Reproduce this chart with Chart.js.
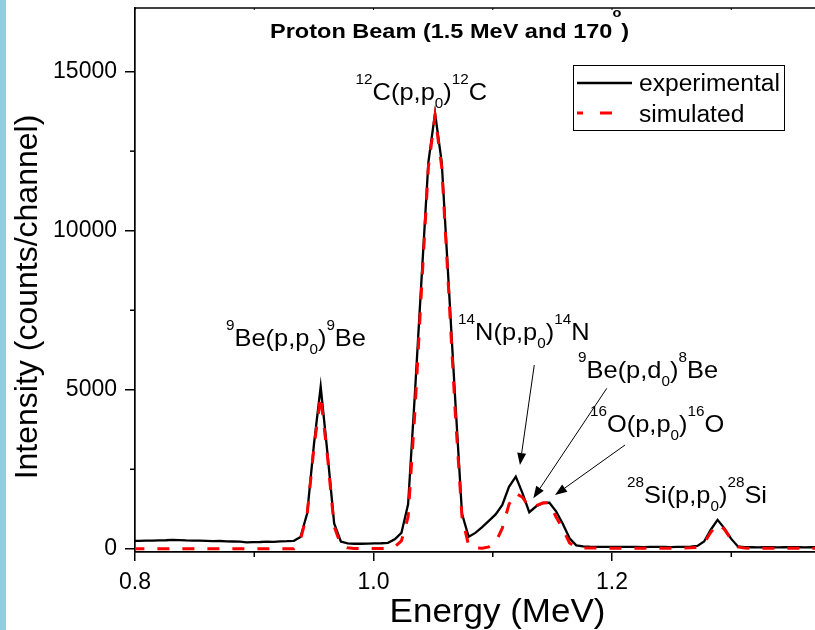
<!DOCTYPE html>
<html><head><meta charset="utf-8">
<script src="https://cdn.jsdelivr.net/npm/chart.js@4/dist/chart.umd.min.js"></script>
<style>html,body{margin:0;padding:0;background:#fff}#wrap{width:815px;height:630px;position:relative}canvas{display:block}</style>
</head><body><div id="wrap"><canvas id="c" width="815" height="630"></canvas></div>
<script>
// ---- data ----
const energies = [
0.7978,0.8034,0.8091,0.8147,0.8204,0.8260,0.8316,0.8373,0.8429,0.8486,
0.8542,0.8598,0.8655,0.8711,0.8768,0.8824,0.8880,0.8937,0.8993,0.9050,
0.9106,0.9162,0.9219,0.9275,0.9332,0.9388,0.9444,0.9501,0.9557,0.9614,
0.9670,0.9726,0.9783,0.9839,0.9896,0.9952,1.0008,1.0065,1.0121,1.0178,
1.0234,1.0290,1.0347,1.0403,1.0460,1.0516,1.0572,1.0629,1.0685,1.0742,
1.0798,1.0854,1.0911,1.0967,1.1024,1.1080,1.1136,1.1193,1.1249,1.1306,
1.1362,1.1418,1.1475,1.1531,1.1588,1.1644,1.1700,1.1757,1.1813,1.1870,
1.1926,1.1982,1.2039,1.2095,1.2152,1.2208,1.2264,1.2321,1.2377,1.2434,
1.2490,1.2546,1.2603,1.2659,1.2716,1.2772,1.2828,1.2885,1.2941,1.2998,
1.3054,1.3110,1.3167,1.3223,1.3280,1.3336,1.3392,1.3449,1.3505,1.3562,
1.3618,1.3674,1.3731];
const experimental = [
250,250,255,260,265,270,280,275,265,260,
255,250,240,245,235,230,225,200,210,215,
225,220,235,240,250,370,1120,3300,5100,3000,
800,230,170,160,160,165,170,175,190,300,
500,1400,4870,8500,12150,13700,12150,8400,4700,1100,
380,500,680,880,1080,1380,1950,2270,1750,1150,
1330,1440,1450,1180,780,330,110,75,65,62,
60,58,60,62,60,58,55,58,60,58,
55,58,62,70,90,230,600,910,650,320,
80,55,50,48,50,50,48,50,52,50,
48,50,50];
const simulated = [
5,5,5,5,5,5,5,5,5,5,
5,5,5,5,5,5,5,5,5,5,
5,5,5,5,5,300,1100,3200,4800,2900,
700,120,30,10,10,10,10,10,10,60,
250,1000,4300,8200,12000,13600,12000,8200,4300,1000,
100,25,20,60,200,650,1400,1750,1620,1300,
1350,1440,1450,1000,620,180,40,25,25,22,
20,20,20,22,20,20,20,20,22,20,
20,22,25,30,40,180,520,780,620,300,
60,25,15,15,15,15,15,15,15,15,
15,15,15];
const seriesNames = ['experimental', 'simulated'];
const xTicks = [0.8, 1.0, 1.2];
const xMinorTicks = [0.9, 1.1, 1.3];
const yTicks = [0, 5000, 10000, 15000];
const yMinorTicks = [2500, 7500, 12500];
const xTitle = 'Energy (MeV)';
const yTitle = 'Intensity (counts/channel)';
const chartTitle = [{t:'Proton Beam (1.5 MeV and 170'},{t:'o',k:'deg'},{t:')'}];
// peak labels (rich text) anchored at data coordinates
const peakLabels = [
  {x:0.8763, y:6375, segs:[{t:'9',k:'sup'},{t:'Be(p,p'},{t:'0',k:'sub'},{t:')'},{t:'9',k:'sup'},{t:'Be'}]},
  {x:0.9850, y:14100, segs:[{t:'12',k:'sup'},{t:'C(p,p'},{t:'0',k:'sub'},{t:')'},{t:'12',k:'sup'},{t:'C'}]},
  {x:1.0709, y:6563, segs:[{t:'14',k:'sup'},{t:'N(p,p'},{t:'0',k:'sub'},{t:')'},{t:'14',k:'sup'},{t:'N'}]},
  {x:1.1715, y:5369, segs:[{t:'9',k:'sup'},{t:'Be(p,d'},{t:'0',k:'sub'},{t:')'},{t:'8',k:'sup'},{t:'Be'}]},
  {x:1.1815, y:3672, segs:[{t:'16',k:'sup'},{t:'O(p,p'},{t:'0',k:'sub'},{t:')'},{t:'16',k:'sup'},{t:'O'}]},
  {x:1.2126, y:1440, segs:[{t:'28',k:'sup'},{t:'Si(p,p'},{t:'0',k:'sub'},{t:')'},{t:'28',k:'sup'},{t:'Si'}]}
];
const arrows = [
  {x0:1.1348, y0:5778, x1:1.1228, y1:2634},
  {x0:1.1956, y0:5045, x1:1.1340, y1:1587},
  {x0:1.2109, y0:3263, x1:1.1522, y1:1691}
];

const FONT = '"Liberation Sans", Arial, Helvetica, sans-serif';

function drawRich(ctx, segs, x, y, size, opt) {
  opt = opt || {};
  const sx = opt.sx || 1, bold = opt.bold ? 'bold ' : '';
  ctx.save();
  ctx.translate(x, y);
  ctx.scale(sx, 1);
  ctx.fillStyle = '#000';
  ctx.textAlign = 'left';
  ctx.textBaseline = 'alphabetic';
  let cx = 0;
  for (const s of segs) {
    let fs = size, dy = 0;
    if (s.k === 'sup') { fs = size * 0.6; dy = -size * 0.68; }
    else if (s.k === 'sub') { fs = size * 0.6; dy = size * 0.33; }
    else if (s.k === 'deg') { fs = size * 0.62; dy = -size * 1.0; }
    ctx.font = bold + fs.toFixed(1) + 'px ' + FONT;
    ctx.fillText(s.t, cx, dy);
    cx += ctx.measureText(s.t).width;
  }
  ctx.restore();
}

const overlay = {
  id: 'overlay',
  beforeDraw(chart) {
    const ctx = chart.ctx;
    ctx.save();
    ctx.fillStyle = '#ffffff';
    ctx.fillRect(0, 0, chart.width, chart.height);
    ctx.fillStyle = '#94cde0';
    ctx.fillRect(0, 0, 6, chart.height);
    ctx.restore();
  },
  afterDraw(chart) {
    const ctx = chart.ctx, xs = chart.scales.x, ys = chart.scales.y, a = chart.chartArea;
    ctx.save();
    ctx.strokeStyle = '#000';
    // top frame line
    ctx.lineWidth = 1.7;
    ctx.beginPath(); ctx.moveTo(a.left - 0.85, a.top); ctx.lineTo(a.right, a.top); ctx.stroke();
    // minor ticks
    ctx.lineWidth = 1.5;
    for (const v of yMinorTicks) {
      const y = ys.getPixelForValue(v);
      ctx.beginPath(); ctx.moveTo(a.left - 5, y); ctx.lineTo(a.left, y); ctx.stroke();
    }
    for (const v of xMinorTicks) {
      const x = xs.getPixelForValue(v);
      ctx.beginPath(); ctx.moveTo(x, a.bottom); ctx.lineTo(x, a.bottom + 5); ctx.stroke();
    }
    // tiny top ticks
    ctx.lineWidth = 1;
    for (const v of xTicks.concat(xMinorTicks)) {
      const x = xs.getPixelForValue(v);
      ctx.beginPath(); ctx.moveTo(x, a.top); ctx.lineTo(x, a.top + 2); ctx.stroke();
    }
    // chart title
    drawRich(ctx, chartTitle, 270, 38, 21, {bold: true, sx: 1.12});
    // peak labels
    for (const L of peakLabels) {
      drawRich(ctx, L.segs, xs.getPixelForValue(L.x), ys.getPixelForValue(L.y), 24, {sx: 1.06});
    }
    // arrows
    ctx.lineWidth = 1;
    ctx.fillStyle = '#000';
    for (const A of arrows) {
      const x0 = xs.getPixelForValue(A.x0), y0 = ys.getPixelForValue(A.y0);
      const x1 = xs.getPixelForValue(A.x1), y1 = ys.getPixelForValue(A.y1);
      const ang = Math.atan2(y1 - y0, x1 - x0), L = 12, W = 4.5;
      const bx = x1 - L * Math.cos(ang), by = y1 - L * Math.sin(ang);
      ctx.beginPath(); ctx.moveTo(x0, y0); ctx.lineTo(bx, by); ctx.stroke();
      ctx.beginPath();
      ctx.moveTo(x1, y1);
      ctx.lineTo(bx + W * Math.sin(ang), by - W * Math.cos(ang));
      ctx.lineTo(bx - W * Math.sin(ang), by + W * Math.cos(ang));
      ctx.closePath(); ctx.fill();
    }
    // legend
    ctx.lineWidth = 1;
    ctx.strokeStyle = '#000';
    ctx.strokeRect(573.5, 65.5, 211, 65);
    ctx.lineWidth = 2.3;
    ctx.beginPath(); ctx.moveTo(577, 83); ctx.lineTo(632, 83); ctx.stroke();
    ctx.strokeStyle = '#ff0000';
    ctx.lineWidth = 3;
    ctx.beginPath(); ctx.moveTo(577, 113); ctx.lineTo(583, 113); ctx.moveTo(600, 113); ctx.lineTo(612, 113); ctx.stroke();
    drawRich(ctx, [{t: seriesNames[0]}], 639, 91, 23, {sx: 1.07});
    drawRich(ctx, [{t: seriesNames[1]}], 639, 121.5, 23, {sx: 1.07});
    // axis titles
    ctx.font = '33px ' + FONT;
    const wx = ctx.measureText(xTitle).width * 1.06;
    drawRich(ctx, [{t: xTitle}], 497.5 - wx / 2, 622, 33, {sx: 1.06});
    ctx.save();
    ctx.translate(28, 297);
    ctx.rotate(-Math.PI / 2);
    ctx.font = '32px ' + FONT;
    ctx.fillStyle = '#000';
    ctx.textAlign = 'center';
    ctx.textBaseline = 'middle';
    ctx.fillText(yTitle, 0, 0);
    ctx.restore();
    ctx.restore();
  }
};

const expPts = energies.map((e, i) => ({x: e, y: experimental[i]}));
const simPts = energies.map((e, i) => ({x: e, y: simulated[i]}));

new Chart(document.getElementById('c'), {
  type: 'line',
  data: {
    datasets: [
      {label: seriesNames[0], data: expPts, borderColor: '#000000', borderWidth: 2.3, pointRadius: 0, tension: 0, fill: false, order: 1},
      {label: seriesNames[1], data: simPts, borderColor: '#ff0000', borderWidth: 3, borderDash: [12, 13], pointRadius: 0, tension: 0, fill: false, order: 0}
    ]
  },
  options: {
    responsive: false,
    animation: false,
    devicePixelRatio: 1,
    layout: {padding: {top: 8, right: 0, left: 0, bottom: 0}},
    plugins: {legend: {display: false}, tooltip: {enabled: false}, title: {display: false}},
    scales: {
      x: {
        type: 'linear', min: 0.8, max: 1.3702,
        afterBuildTicks: s => { s.ticks = xTicks.map(v => ({value: v})); },
        afterFit: s => { s.height = 78; s.paddingLeft = 0; s.paddingRight = 0; },
        ticks: {callback: v => Number(v).toFixed(1), font: {family: FONT, size: 23}, color: '#000', padding: 8, maxRotation: 0, autoSkip: false},
        grid: {drawOnChartArea: false, drawTicks: true, tickLength: 9, color: '#000', lineWidth: 1.5},
        border: {display: true, color: '#000', width: 1.7}
      },
      y: {
        type: 'linear', min: -100, max: 17000,
        afterBuildTicks: s => { s.ticks = yTicks.map(v => ({value: v})); },
        afterFit: s => { s.width = 135; s.paddingTop = 0; s.paddingBottom = 0; },
        ticks: {callback: v => String(v), font: {family: FONT, size: 23}, color: '#000', padding: 8, autoSkip: false},
        grid: {drawOnChartArea: false, drawTicks: true, tickLength: 10, color: '#000', lineWidth: 1.5},
        border: {display: true, color: '#000', width: 1.7}
      }
    }
  },
  plugins: [overlay]
});
</script></body></html>
